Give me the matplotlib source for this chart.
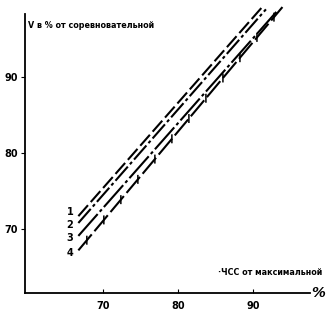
import matplotlib
matplotlib.use('Agg')
import matplotlib.pyplot as plt
import matplotlib.patheffects as pe

# HR % of max (x) vs speed % of race speed (y), line ends
hr_start = [66.7, 66.7, 66.7, 66.7]
hr_end = [91.2, 91.7, 93.3, 93.9]
v_start = [71.7, 70.8, 69.1, 67.2]
v_end = [99.2, 98.9, 98.8, 99.2]
line_names = ['1', '2', '3', '4']
label_y = [72.2, 70.5, 68.8, 66.8]
x_ticks = [70, 80, 90]
y_ticks = [70, 80, 90]

plt.rcParams['font.family'] = ['DejaVu Sans']
plt.rcParams['font.weight'] = 'bold'

fig = plt.figure(figsize=(3.3, 3.16), dpi=100)
ax = fig.add_axes([0.076, 0.073, 0.864, 0.883])
ax.set_xlim(59.6, 97.6)
ax.set_ylim(61.6, 98.3)

styles = [(0, (7, 2)), (0, (9, 1.5, 1.5, 1.5)), (0, (14, 1.5, 1.5, 1.5)),
          (0, (10, 2))]
for i in range(4):
    kw = {}
    if i == 3:
        # short near-vertical crossbars along line 4
        kw['path_effects'] = [
            pe.Stroke(),
            pe.TickedStroke(offset=(0, -3.2), spacing=19, angle=40,
                            length=0.34, linewidth=1.1)]
    ax.plot([hr_start[i], hr_end[i]], [v_start[i], v_end[i]], color='black',
            lw=1.5, linestyle=styles[i], clip_on=False, **kw)
    ax.text(65.6, label_y[i], line_names[i],
            ha='center', va='center', fontsize=7)

ax.spines['top'].set_visible(False)
ax.spines['right'].set_visible(False)
for s in ['left', 'bottom']:
    ax.spines[s].set_linewidth(1.3)

ax.set_xticks(x_ticks)
ax.set_yticks(y_ticks)
ax.tick_params(axis='x', direction='in', length=3, labelsize=7, pad=6)
ax.tick_params(axis='y', direction='out', length=3, labelsize=7, pad=2)

ax.text(0.01, 0.975, 'V в % от соревновательной', transform=ax.transAxes,
        ha='left', va='top', fontsize=5.8)
ax.text(0.675, 0.075, '·ЧСС от максимальной', transform=ax.transAxes,
        ha='left', va='center', fontsize=5.8)
ax.text(1.005, 0.0, '%', transform=ax.transAxes, ha='left', va='center',
        fontsize=10, style='italic')

plt.savefig('out.png', dpi=100)
